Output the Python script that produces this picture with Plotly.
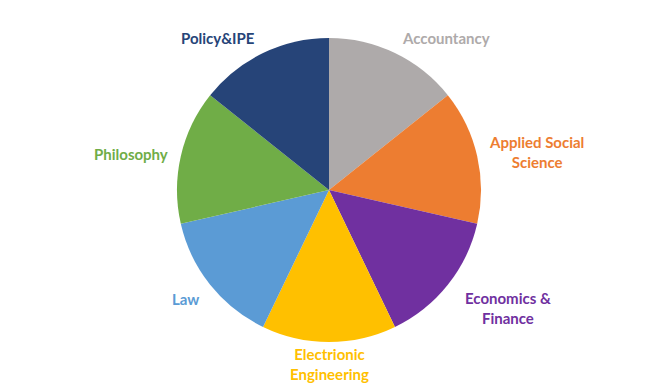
import plotly.graph_objects as go

categories = ["Accountancy", "Applied Social Science", "Economics & Finance",
              "Electrionic Engineering", "Law", "Philosophy", "Policy&IPE"]
values = [1, 1, 1, 1, 1, 1, 1]
label_text = ["Accountancy", "Applied Social<br>Science", "Economics &<br>Finance",
              "Electrionic<br>Engineering", "Law", "Philosophy", "Policy&IPE"]
colors = ["#AEAAAA", "#ED7D31", "#7030A0", "#FFC000", "#5B9BD5", "#70AD47", "#264478"]

W, H = 657, 384
OFF = 8  # page body margin
# label centres in page pixels
label_pos = [(446, 38), (536, 152), (508, 308), (329, 364), (185, 299), (131, 154), (218, 38)]

cx = (329 - OFF) / W
top, bot = 38 - OFF, 342 - OFF
fig = go.Figure(go.Pie(
    labels=categories, values=values, sort=False, direction="clockwise", rotation=0,
    marker=dict(colors=colors, line=dict(width=0)),
    textinfo="none", hoverinfo="label", showlegend=False,
    domain=dict(x=[cx - 0.3, cx + 0.3], y=[(H - bot) / H, (H - top) / H]),
))

for txt, col, (px, py) in zip(label_text, colors, label_pos):
    fig.add_annotation(x=(px - OFF) / W, y=1 - (py - OFF) / H, xref="paper", yref="paper",
                       text=f"<b>{txt}</b>", showarrow=False, xanchor="center", yanchor="middle",
                       font=dict(family="Lato, Open Sans, sans-serif", size=15, color=col))

fig.update_layout(width=W, height=H, margin=dict(l=0, r=0, t=0, b=0, autoexpand=False),
                  paper_bgcolor="white", plot_bgcolor="white")
fig.write_html("out.html")
